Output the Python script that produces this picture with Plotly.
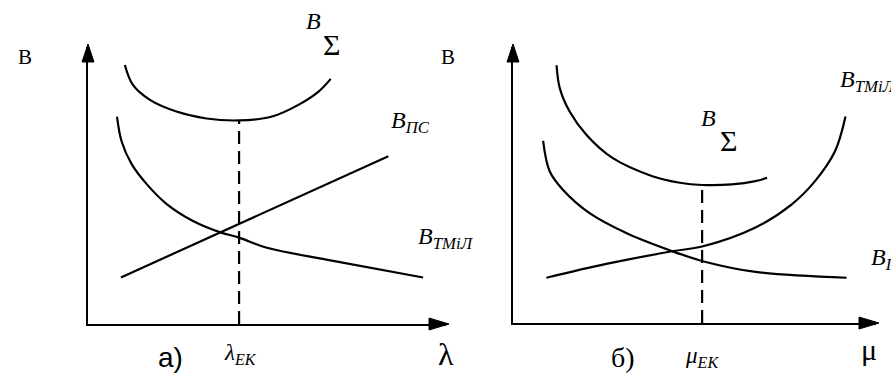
import plotly.graph_objects as go

# ---- panel a): cost components versus lambda ----
lam_sum_x = [1.03, 1.25, 1.72, 2.47, 3.31, 4.22, 5.14, 5.89, 6.44, 6.78]
lam_sum_y = [9.35, 8.64, 8.10, 7.67, 7.42, 7.35, 7.49, 7.92, 8.39, 8.85]
lam_tm_x = [0.81, 0.94, 1.22, 1.64, 2.19, 2.92, 3.72, 4.22, 4.97, 6.81, 9.36]
lam_tm_y = [7.49, 6.59, 5.77, 5.05, 4.34, 3.73, 3.30, 3.12, 2.76, 2.29, 1.68]
lam_ps_x = [0.92, 8.39]
lam_ps_y = [1.68, 6.06]
lam_ek = 4.22

# ---- panel б): cost components versus mu ----
mu_sum_x = [1.20, 1.29, 1.56, 2.02, 2.74, 3.84, 4.60, 5.21, 6.03, 6.68, 7.00]
mu_sum_y = [9.34, 8.50, 7.66, 6.82, 5.98, 5.32, 5.08, 5.00, 5.02, 5.14, 5.26]
mu_ps_x = [0.83, 1.01, 1.38, 2.11, 3.12, 4.39, 5.31, 6.68, 9.19]
mu_ps_y = [6.60, 5.50, 4.82, 3.98, 3.26, 2.60, 2.21, 1.85, 1.64]
mu_tm_x = [0.92, 2.57, 4.39, 5.21, 6.68, 7.68, 8.32, 8.87, 9.16]
mu_tm_y = [1.64, 2.14, 2.60, 2.77, 3.46, 4.30, 5.14, 6.22, 7.48]
mu_ek = 5.21

AX_MAX = 10
W, H = 891, 374
SERIF = "Liberation Serif, Times New Roman, serif"

# pixel extents of the two coordinate frames: (left, right, bottom, top)
FRAMES = {"a": (88, 446, 324, 47), "b": (513, 876, 323, 47)}

fig = go.Figure()

curve = dict(mode="lines", line=dict(color="black", width=2.2, shape="spline", smoothing=1.0),
             hoverinfo="skip", showlegend=False)
dashed = dict(mode="lines", line=dict(color="black", width=2.2, dash="13px,7px"),
              hoverinfo="skip", showlegend=False)

# panel a)
fig.add_trace(go.Scatter(x=lam_sum_x, y=lam_sum_y, xaxis="x", yaxis="y", **curve))
fig.add_trace(go.Scatter(x=lam_tm_x, y=lam_tm_y, xaxis="x", yaxis="y", **curve))
fig.add_trace(go.Scatter(x=lam_ps_x, y=lam_ps_y, xaxis="x", yaxis="y", **curve))
fig.add_trace(go.Scatter(x=[lam_ek, lam_ek], y=[0, min(lam_sum_y)], xaxis="x", yaxis="y", **dashed))

# panel б)
fig.add_trace(go.Scatter(x=mu_sum_x, y=mu_sum_y, xaxis="x2", yaxis="y2", **curve))
fig.add_trace(go.Scatter(x=mu_ps_x, y=mu_ps_y, xaxis="x2", yaxis="y2", **curve))
fig.add_trace(go.Scatter(x=mu_tm_x, y=mu_tm_y, xaxis="x2", yaxis="y2", **curve))
fig.add_trace(go.Scatter(x=[mu_ek, mu_ek], y=[0, min(mu_sum_y)], xaxis="x2", yaxis="y2", **dashed))


def px(x):
    return x / W


def py(y):
    return 1 - y / H


axis_common = dict(range=[0, AX_MAX], showgrid=False, zeroline=False, showticklabels=False,
                   ticks="", showline=True, linecolor="black", linewidth=2, fixedrange=True)

la, ra, ba, ta = FRAMES["a"]
lb, rb, bb, tb = FRAMES["b"]
fig.update_layout(
    width=W, height=H,
    margin=dict(l=0, r=0, t=0, b=0),
    paper_bgcolor="white", plot_bgcolor="rgba(0,0,0,0)",
    xaxis=dict(domain=[px(la), px(ra)], anchor="y", **axis_common),
    yaxis=dict(domain=[py(ba), py(ta)], anchor="x", **axis_common),
    xaxis2=dict(domain=[px(lb), px(rb)], anchor="y2", **axis_common),
    yaxis2=dict(domain=[py(bb), py(tb)], anchor="x2", **axis_common),
)

# arrowheads at the ends of both axes of each frame (paper-anchored so they are not clipped)
for left, right, bottom, top in FRAMES.values():
    fig.add_shape(type="path", xref="paper", yref="paper", xsizemode="pixel", ysizemode="pixel",
                  xanchor=px(left), yanchor=py(top), path="M -6,-15 L 6,-15 L 0,3 Z",
                  fillcolor="black", line=dict(color="black", width=1))
    fig.add_shape(type="path", xref="paper", yref="paper", xsizemode="pixel", ysizemode="pixel",
                  xanchor=px(right), yanchor=py(bottom), path="M -17,-6 L -17,6 L 3,0 Z",
                  fillcolor="black", line=dict(color="black", width=1))


def label(text, x, y, size, xanchor="center", family=SERIF):
    fig.add_annotation(text=text, x=px(x), y=py(y), xref="paper", yref="paper",
                       showarrow=False, xanchor=xanchor, yanchor="middle",
                       font=dict(family=family, size=size, color="black"))


# panel a) labels
label("B", 25, 57, 21)
label("<i>B</i>", 313, 21, 24)
label("Σ", 331, 44, 30)
label("<i>B</i><sub><i>ПС</i></sub>", 389, 122, 24, "left")
label("<i>B</i><sub><i>ТМіЛ</i></sub>", 416, 238, 24, "left")
label("a)", 170, 357, 28, family="Liberation Sans, Arial, sans-serif")
label("<i>λ</i><sub><i>ЕК</i></sub>", 240, 354, 23)
label("λ", 446, 354, 32)

# panel б) labels
label("B", 448, 57, 21)
label("<i>B</i><sub><i>ТМіЛ</i></sub>", 838, 81, 24, "left")
label("<i>B</i>", 708, 118, 24)
label("Σ", 728, 141, 30)
label("<i>B</i><sub><i>ПС</i></sub>", 869, 259, 24, "left")
label("б)", 623, 357, 28)
label("<i>μ</i><sub><i>ЕК</i></sub>", 702, 357, 23)
label("μ", 869, 349, 30)

fig.write_html("out.html")
